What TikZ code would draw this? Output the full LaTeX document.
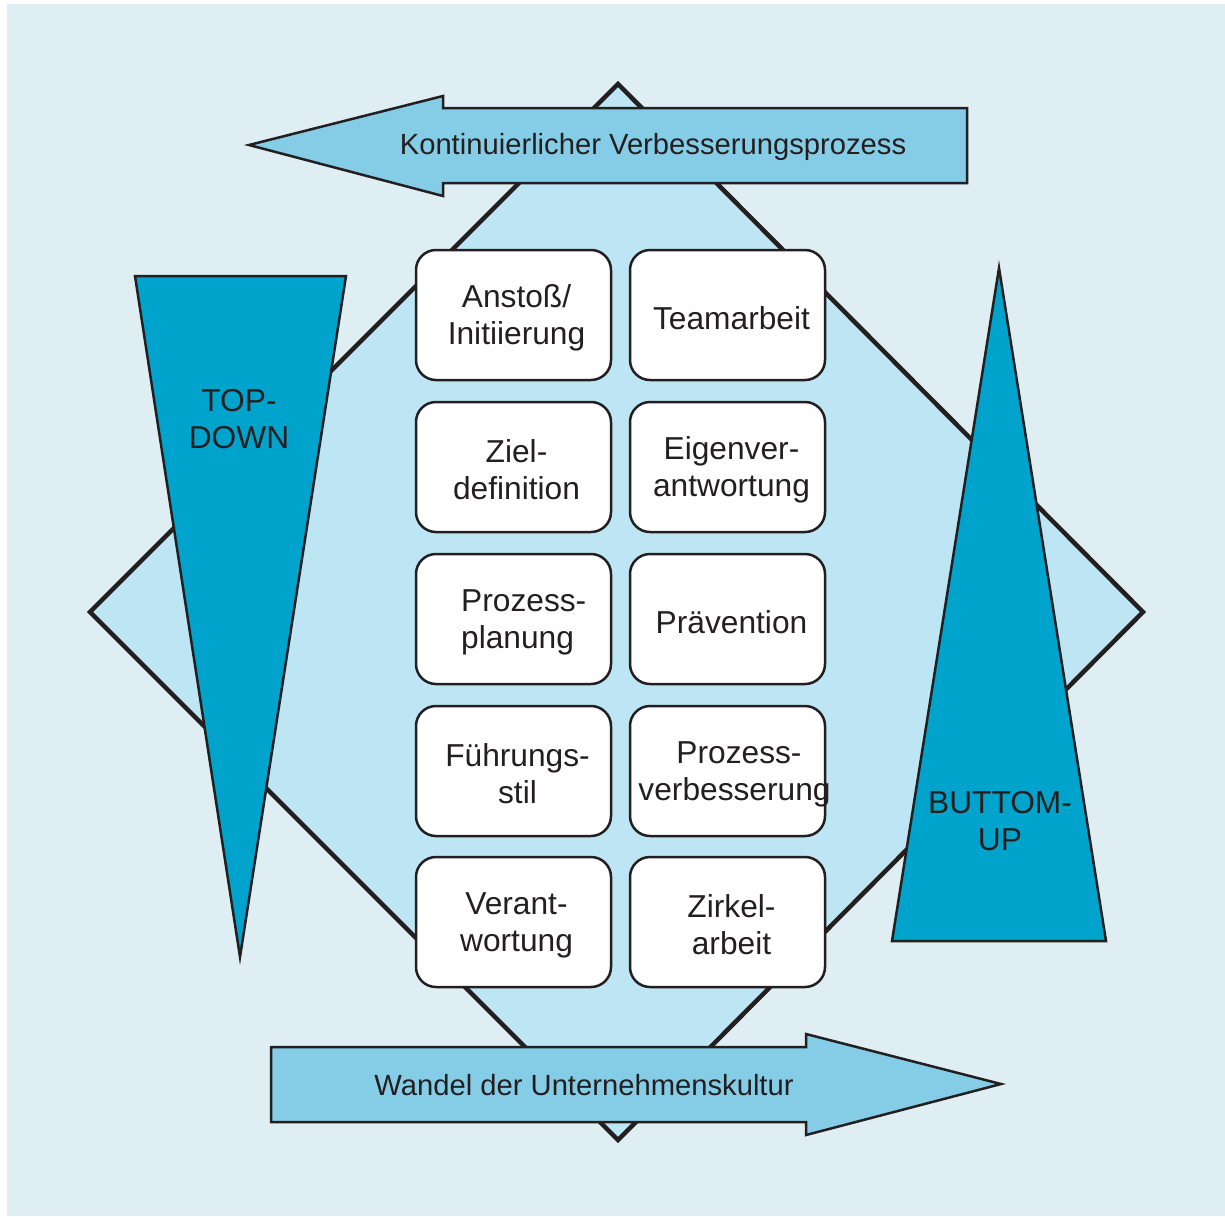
\documentclass[tikz,border=0pt]{standalone}
\usepackage{fontspec}
\setmainfont{Liberation Sans}
\definecolor{bgc}{HTML}{DFEEF2}
\definecolor{diac}{HTML}{BDE5F4}
\definecolor{arrc}{HTML}{85CDE6}
\definecolor{tric}{HTML}{00A3CC}
\definecolor{inkc}{HTML}{231F20}
\begin{document}
\begin{tikzpicture}[x=1pt,y=-1pt,
  boxst/.style={draw=inkc, line width=2.5pt, fill=white, rounded corners=20pt,
    minimum width=195pt, minimum height=130pt, inner sep=0pt},
  arrst/.style={draw=inkc, line width=2.5pt, fill=arrc, line join=miter},
  trist/.style={draw=inkc, line width=2.5pt, fill=tric, line join=miter},
  lblst/.style={text=inkc, inner sep=0pt, align=center, font=\fontsize{31.7}{37}\selectfont},
  arrlbl/.style={text=inkc, inner sep=0pt, font=\fontsize{29.2}{35}\selectfont}]
\useasboundingbox (0,0) rectangle (1225,1216);
\fill[white] (0,0) rectangle (1225,1216);
\fill[bgc] (7,4) rectangle (1225,1216);
% diamond
\draw[draw=inkc, line width=4.5pt, fill=diac, line join=miter]
  (618,84) -- (1143,612) -- (618,1140) -- (90,612) -- cycle;
% top arrow
\draw[arrst] (967,108) -- (443,108) -- (443,96) -- (249,145) -- (443,196) -- (443,183) -- (967,183) -- cycle;
\node[arrlbl] (kvp) at (653,147) {Kontinuierlicher Verbesserungsprozess};
% bottom arrow
\draw[arrst] (271,1047) -- (806,1047) -- (806,1034) -- (1001,1084) -- (806,1135) -- (806,1122) -- (271,1122) -- cycle;
\node[arrlbl] (wuk) at (584,1085) {Wandel der Unternehmenskultur};
% triangles
\draw[trist] (135,276) -- (346,276) -- (240,957) -- cycle;
\node[lblst] (td) at (239,419) {TOP-\\DOWN};
\draw[trist] (999,268) -- (1106,941) -- (892,941) -- cycle;
\node[lblst] (bu) at (1000,821) {BUTTOM-\\UP};
% boxes
\node[boxst] (b1) at (513.5,315) {};
\node[boxst] (b2) at (727.5,315) {};
\node[boxst] (b3) at (513.5,467) {};
\node[boxst] (b4) at (727.5,467) {};
\node[boxst] (b5) at (513.5,619) {};
\node[boxst] (b6) at (727.5,619) {};
\node[boxst] (b7) at (513.5,771) {};
\node[boxst] (b8) at (727.5,771) {};
\node[boxst] (b9) at (513.5,922) {};
\node[boxst] (b10) at (727.5,922) {};
% box texts
\node[lblst] (t1) at ([shift={(3,3)}]b1.center) {Anstoß/\\Initiierung};
\node[lblst] (t2) at ([shift={(4,3)}]b2.center) {Teamarbeit};
\node[lblst] (t3) at ([shift={(3,3)}]b3.center) {Ziel-\\definition};
\node[lblst] (t4) at ([shift={(4,3)}]b4.center) {Eigenver-\\antwortung};
\node[lblst, align=left, anchor=west] (t5) at ([shift={(-52.5,3)}]b5.center) {Prozess-\\planung};
\node[lblst] (t6) at ([shift={(4,3)}]b6.center) {Prävention};
\node[lblst] (t7) at ([shift={(4,3)}]b7.center) {Führungs-\\stil};
\node[lblst] (t8) at ([shift={(7,3)}]b8.center) {\hspace*{9pt}Prozess-\\verbesserung};
\node[lblst] (t9) at ([shift={(3,3)}]b9.center) {Verant-\\wortung};
\node[lblst] (t10) at ([shift={(4,3)}]b10.center) {Zirkel-\\arbeit};
\end{tikzpicture}
\end{document}
